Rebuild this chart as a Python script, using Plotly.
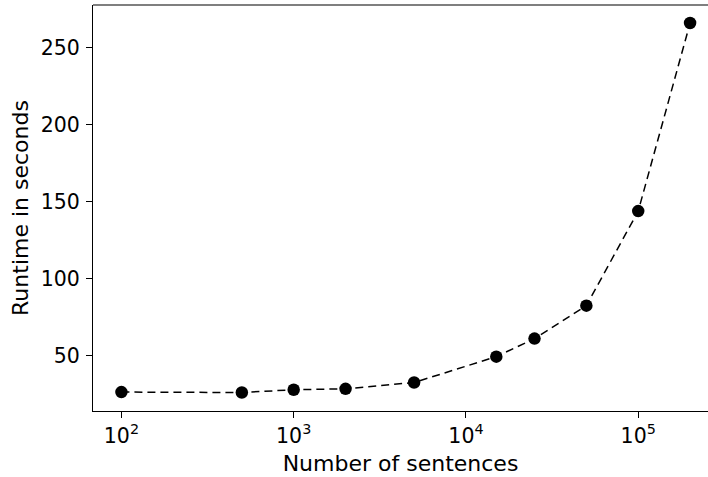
import plotly.graph_objects as go

# Runtime measurements per corpus size
sentences = [100, 500, 1000, 2000, 5000, 15000, 25000, 50000, 100000, 200000]
runtime_s = [26.5, 26.2, 28.0, 28.6, 32.7, 49.5, 61.2, 82.6, 144.0, 266.1]

x_tickvals = [100, 1000, 10000, 100000]
x_ticktext = ["10<sup>2</sup>", "10<sup>3</sup>", "10<sup>4</sup>", "10<sup>5</sup>"]
y_tickvals = [50, 100, 150, 200, 250]

FONT = "DejaVu Sans"
TICK_SIZE = 20.5
TITLE_SIZE = 22

fig = go.Figure()
fig.add_trace(go.Scatter(
    x=sentences,
    y=runtime_s,
    mode="lines+markers",
    line=dict(color="black", width=1.5, dash="8px,5px"),
    marker=dict(color="black", size=12.5, symbol="circle"),
    showlegend=False,
))

axis_common = dict(
    showgrid=False,
    zeroline=False,
    showline=True,
    linecolor="black",
    linewidth=1.2,
    ticks="outside",
    ticklen=6,
    tickwidth=1.2,
    tickcolor="black",
    tickfont=dict(family=FONT, size=TICK_SIZE, color="black"),
)

fig.update_xaxes(
    type="log",
    range=[1.835, 5.405],
    tickvals=x_tickvals,
    ticktext=x_ticktext,
    title=dict(text="Number of sentences", font=dict(family=FONT, size=TITLE_SIZE, color="black"), standoff=8),
    **axis_common,
)
fig.update_yaxes(
    range=[14.2, 277.8],
    tickvals=y_tickvals,
    ticklabelstandoff=2,
    title=dict(text="Runtime in seconds", font=dict(family=FONT, size=TITLE_SIZE, color="black"), standoff=5),
    **axis_common,
)

# Top frame line of the axes box
fig.add_shape(type="line", xref="paper", yref="paper", x0=0, x1=1, y0=1, y1=1,
              line=dict(color="black", width=1.2))

fig.update_layout(
    width=708,
    height=477,
    margin=dict(l=93, r=0, t=5, b=66),
    paper_bgcolor="white",
    plot_bgcolor="white",
    font=dict(family=FONT, color="black"),
)

fig.write_html("out.html")
